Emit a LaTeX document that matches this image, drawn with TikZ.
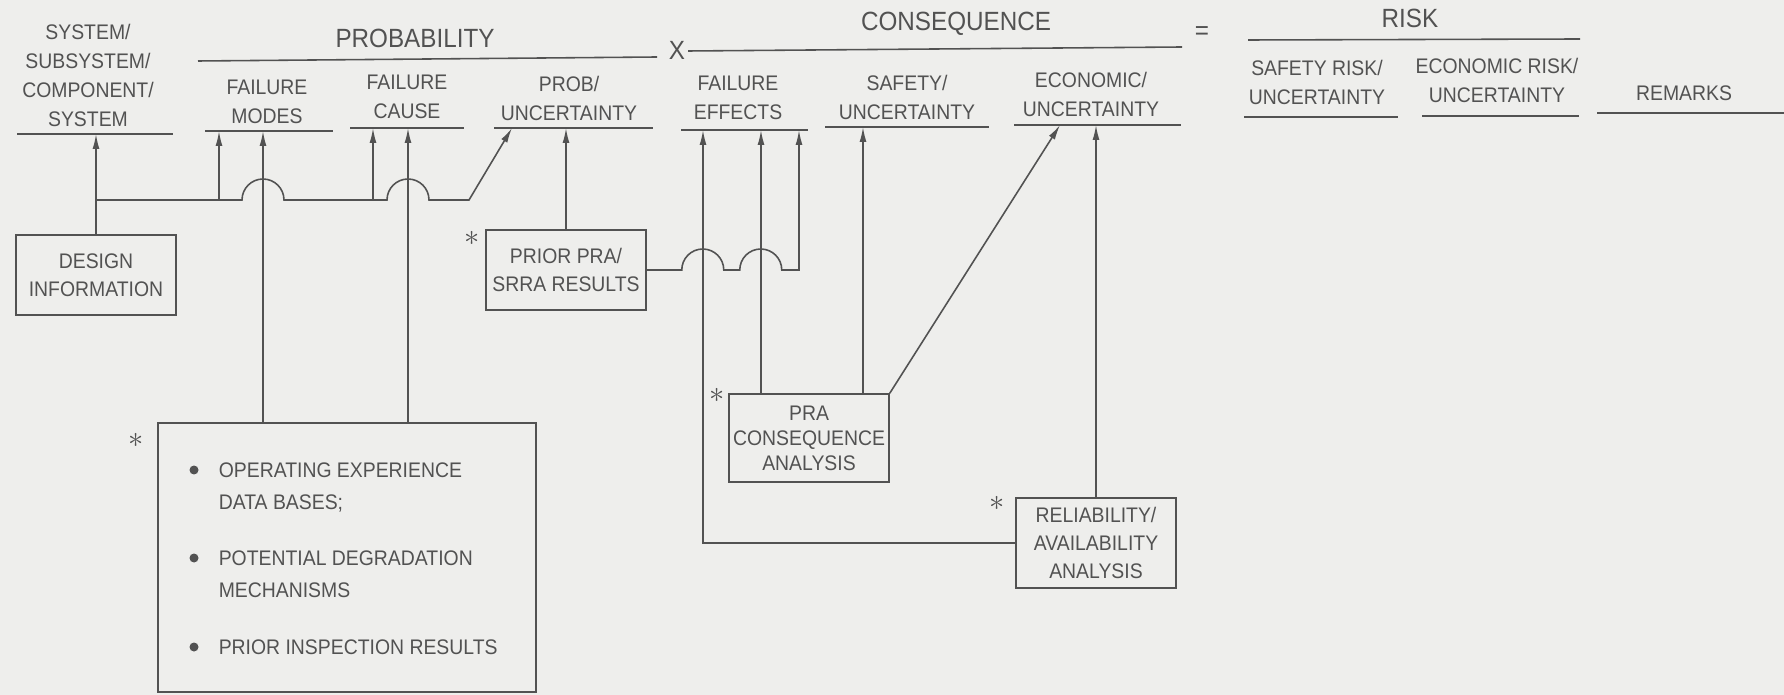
\documentclass[tikz,border=0pt]{standalone}
\usepackage{fontspec}
\setmainfont{Liberation Sans}[FakeStretch=0.92]
\usepackage{tikz}
\usetikzlibrary{positioning,calc,arrows.meta}
\definecolor{ink}{gray}{0.32}
\definecolor{paper}{RGB}{238,238,236}

\begin{document}
\begin{tikzpicture}[x=0.02cm, y=-0.02cm, ->, >={Latex[length=3mm,width=1.4mm]}, color=ink, line width=0.9pt, block/.style = {rectangle, draw, fill=paper, minimum width=3.2cm, minimum height=1.6cm, inner sep=0pt, align=center, font=\fontsize{12}{16}\selectfont}, hdr/.style = {inner sep=0pt, align=center, font=\fontsize{12}{16.5}\selectfont}, ttl/.style = {inner sep=0pt, font=\fontsize{15}{17}\selectfont}, item/.style = {anchor=north west, inner sep=0pt, align=left, font=\fontsize{12}{18}\selectfont}, ast/.style = {inner sep=0pt, font=\LARGE}]

\useasboundingbox (0,0) rectangle (1784,695);
\fill[-, paper] (0,0) rectangle (1784,695);

\node[hdr] (h0) at (88,75) {SYSTEM/\\SUBSYSTEM/\\COMPONENT/\\SYSTEM};
\node[ttl] (h1) at (415,38) {PROBABILITY};
\node[ttl] (h2) at (677,50) {X};
\node[ttl] (h3) at (956,24) {CONSEQUENCE};
\node[ttl] (h4) at (1202,33) {=};
\node[ttl] (h5) at (1410,18) {RISK};
\node[hdr] (col1) at (267,102) {FAILURE\\MODES};
\node[hdr] (col2) at (407,97) {FAILURE\\CAUSE};
\node[hdr] (col3) at (569,98) {PROB/\\UNCERTAINTY};
\node[hdr] (col4) at (738,98) {FAILURE\\EFFECTS};
\node[hdr] (col5) at (907,97) {SAFETY/\\UNCERTAINTY};
\node[hdr] (col6) at (1091,94) {ECONOMIC/\\UNCERTAINTY};
\node[hdr] (col7) at (1317,82) {SAFETY RISK/\\UNCERTAINTY};
\node[hdr] (col8) at (1497,80) {ECONOMIC RISK/\\UNCERTAINTY};
\node[hdr] (col9) at (1684,93) {REMARKS};

\draw[-] (198,61) -- (657,57);
\draw[-] (688,51) -- (1182,47);
\draw[-] (1248,40) -- (1580,39);
\draw[-] (17,134) coordinate (u0) -- (173,134);
\draw[-] (205,131) coordinate (u1) -- (333,131);
\draw[-] (350,128) coordinate (u2) -- (464,128);
\draw[-] (494,128) coordinate (u3) -- (653,128);
\draw[-] (681,130) coordinate (u4) -- (808,130);
\draw[-] (825,127) coordinate (u5) -- (989,127);
\draw[-] (1014,125) coordinate (u6) -- (1181,125);
\draw[-] (1244,117) -- (1398,117);
\draw[-] (1422,116) -- (1579,116);
\draw[-] (1597,113) -- (1784,113);

\node[block] (d) at (96,275) {DESIGN\\INFORMATION};
\node[block] (p) at (566,270) {PRIOR PRA/\\SRRA RESULTS};
\node[block, minimum height=1.76cm, font=\fontsize{12}{14.2}\selectfont] (c) at (809,438) {PRA\\CONSEQUENCE\\ANALYSIS};
\node[block, minimum height=1.8cm] (r) at (1096,543) {RELIABILITY/\\AVAILABILITY\\ANALYSIS};
\node[block, minimum width=7.56cm, minimum height=5.38cm] (k) at (347,557.5) {};

\foreach \y in {470,558,647}
  \fill[-] (194,\y) circle (0.9mm);
\node[item] (i1) at (218,462) {OPERATING EXPERIENCE\\DATA BASES;};
\node[item] (i2) at (218,550) {POTENTIAL DEGRADATION\\MECHANISMS};
\node[item] (i3) at (218,639) {PRIOR INSPECTION RESULTS};

\node[ast] (s1) at (136,440) {$\ast$};
\node[ast] (s2) at (472,238) {$\ast$};
\node[ast] (s3) at (717,395) {$\ast$};
\node[ast] (s4) at (997,503) {$\ast$};

\coordinate (j0) at (96,200);
\coordinate (j1) at (219,200);
\coordinate (j2) at (373,200);
\coordinate (e1) at (512,128);
\coordinate (e3) at (703,130);
\coordinate (e4) at (799,130);
\coordinate (e6) at (1060,125);
\path (k.north -| 263,0) coordinate (k1) (k.north -| 408,0) coordinate (k2);
\path (c.north -| 761,0) coordinate (m1) (c.north -| 863,0) coordinate (m2);

\draw[-] (d) -- (j0);
\draw (j0) -- (j0 |- u0);
\draw (j0) -- (242,200) arc[start angle=180, end angle=0, radius=4.2mm] -- (387,200) arc[start angle=180, end angle=0, radius=4.2mm] -- (469,200) -- (e1);
\draw (j1) -- (j1 |- u1);
\draw (j2) -- (j2 |- u2);
\draw (k1) -- (k1 |- u1);
\draw (k2) -- (k2 |- u2);

\draw (p) -- (p |- u3);
\draw (p.east) -- ++(35,0) arc[start angle=180, end angle=0, radius=4.2mm] -- ++(16,0) arc[start angle=180, end angle=0, radius=4.2mm] -- (e4 |- p.east) -- (e4);

\draw (m1) -- (m1 |- u4);
\draw (m2) -- (m2 |- u5);
\draw (c.north east) -- (e6);
\draw (r.west) -- (r.west -| e3) -- (e3);
\draw (r) -- (r |- u6);
\end{tikzpicture}
\end{document}
